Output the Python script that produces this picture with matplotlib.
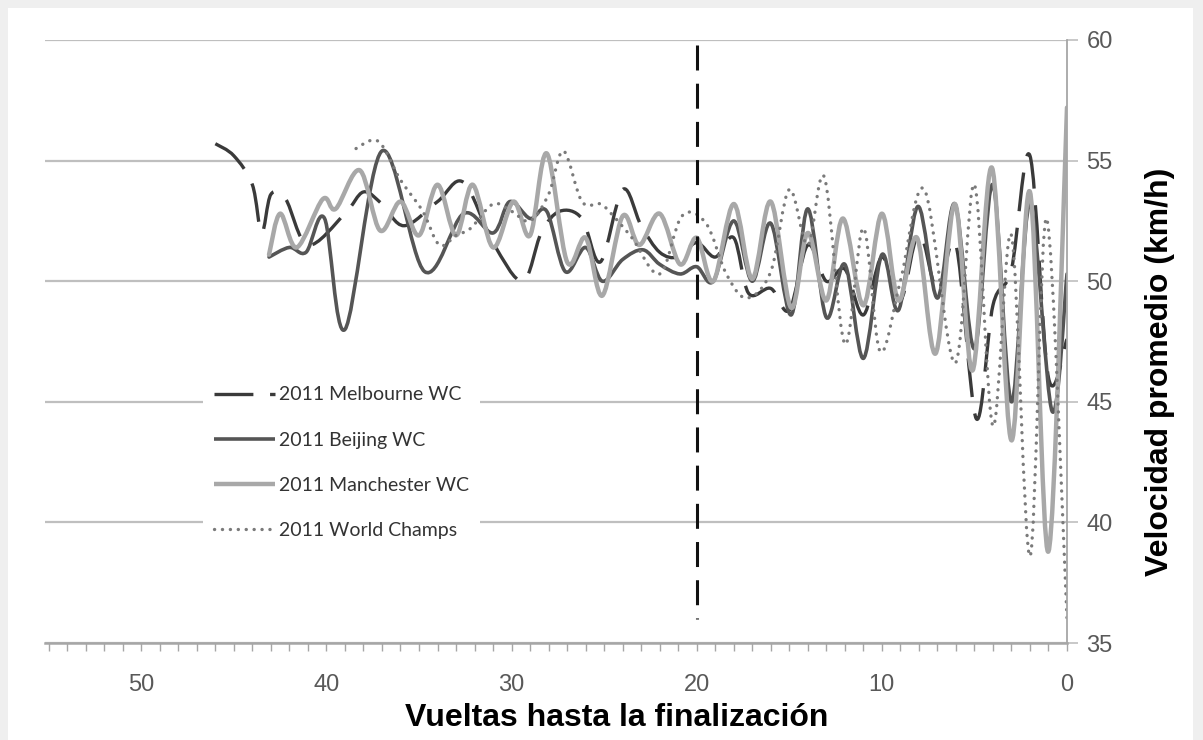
import numpy as np
import matplotlib
matplotlib.use("Agg")
import matplotlib.pyplot as plt
from matplotlib.path import Path
from matplotlib.patches import PathPatch, Rectangle
from matplotlib.lines import Line2D
from matplotlib.ticker import MultipleLocator

plt.rcParams["lines.scale_dashes"] = False

# ---- data: laps to go vs average lap speed (km/h) ----
melbourne_laps = [46.0, 45.0, 44.0, 43.5, 43.0, 42.2, 41.0, 39.0, 38.0, 37.0, 35.8, 34.0,
                  32.6, 31.0, 29.4, 28.4, 27.4, 26.2, 25.2, 24.0, 23.0, 22.0, 21.0, 20.0,
                  19.0, 18.0, 17.2, 16.0, 15.0, 14.0, 13.0, 12.0, 11.0, 10.0, 9.0, 8.0,
                  7.0, 6.0, 4.9, 4.0, 3.0, 2.0, 1.0, 0.0]
melbourne_kmh = [55.7, 55.2, 54.0, 52.0, 53.6, 53.4, 51.5, 52.8, 53.7, 53.2, 52.3, 53.3,
                 54.1, 51.6, 50.0, 52.0, 52.9, 52.6, 50.8, 53.8, 52.3, 51.2, 51.0, 51.6,
                 51.0, 51.8, 49.5, 49.7, 48.8, 51.5, 50.0, 50.5, 48.6, 51.0, 49.2, 52.0,
                 49.6, 51.5, 44.3, 49.0, 50.5, 55.2, 46.0, 47.6]

beijing_laps = [43.1, 42.0, 41.1, 40.1, 39.0, 37.0, 34.7, 32.6, 31.0, 30.1, 29.0, 28.1,
                27.1, 26.0, 25.1, 24.0, 22.9, 22.0, 20.9, 20.0, 19.1, 18.0, 17.0, 16.0,
                14.9, 14.0, 13.0, 12.0, 11.0, 10.0, 9.1, 8.05, 7.0, 6.05, 5.0, 4.0,
                3.0, 2.0, 0.8, 0.0]
beijing_kmh = [51.0, 51.4, 51.2, 52.6, 48.0, 55.4, 50.4, 52.8, 52.0, 53.3, 52.6, 52.9,
               50.4, 51.4, 50.0, 50.9, 51.3, 50.7, 50.3, 50.6, 50.0, 52.5, 50.0, 52.4,
               48.6, 53.0, 48.5, 50.7, 46.8, 51.1, 48.8, 53.1, 49.3, 53.2, 47.2, 54.0,
               45.0, 53.2, 44.6, 50.3]

manchester_laps = [43.1, 42.5, 41.6, 40.2, 39.5, 38.2, 37.1, 36.0, 35.0, 34.0, 33.0, 32.1,
                   31.0, 29.9, 29.0, 28.1, 27.0, 26.0, 25.1, 24.0, 23.1, 22.0, 20.9, 20.0,
                   19.1, 18.0, 17.0, 16.0, 14.9, 14.0, 13.0, 12.1, 11.0, 10.0, 9.1, 8.1,
                   7.1, 6.05, 5.1, 4.05, 3.0, 2.0, 1.0, 0.0]
manchester_kmh = [51.1, 52.8, 51.4, 53.4, 53.0, 54.6, 52.1, 53.3, 51.9, 54.0, 51.9, 54.0,
                  51.4, 53.3, 51.9, 55.3, 50.8, 51.8, 49.4, 52.7, 51.5, 52.8, 50.7, 51.8,
                  50.0, 53.2, 50.1, 53.3, 48.9, 52.0, 49.2, 52.6, 49.0, 52.8, 49.2, 51.8,
                  47.0, 53.2, 46.3, 54.7, 43.4, 53.7, 38.8, 57.2]

worlds_laps = [38.4, 37.2, 36.0, 34.8, 33.9, 33.0, 32.2, 31.0, 30.0, 29.0, 28.0, 27.2,
               26.2, 25.2, 24.5, 23.5, 22.0, 20.8, 19.5, 18.4, 17.3, 16.0, 15.0, 14.0,
               13.1, 12.0, 11.0, 10.1, 9.0, 7.7, 6.05, 5.0, 4.0, 3.0, 2.0, 1.1, 0.0]
worlds_kmh = [55.5, 55.8, 54.2, 52.9, 51.5, 51.9, 52.2, 53.2, 52.9, 52.5, 53.6, 55.4,
              53.3, 53.2, 52.7, 51.8, 50.3, 52.7, 52.4, 50.3, 49.3, 50.4, 53.8, 51.5,
              54.3, 47.4, 52.2, 47.1, 50.0, 53.8, 46.6, 54.0, 44.0, 51.9, 38.6, 52.6, 36.0]

series_labels = ["2011 Melbourne WC", "2011 Beijing WC", "2011 Manchester WC", "2011 World Champs"]
x_ticks = [50, 40, 30, 20, 10, 0]
y_ticks = [35, 40, 45, 50, 55, 60]
marker_lap = 20

# ---- styles ----
styles = [
    dict(color="#3a3a3a", lw=2.4, ls=(0, (28, 12)), cap="butt"),
    dict(color="#555555", lw=2.6, ls="solid", cap="round"),
    dict(color="#a8a8a8", lw=3.2, ls="solid", cap="round"),
    dict(color="#7a7a7a", lw=2.4, ls=(0, (0.1, 5.6)), cap="round"),
]


def smooth_path(xs, ys):
    """Catmull-Rom style cubic Bezier path through the given points."""
    pts = np.column_stack([xs, ys]).astype(float)
    n = len(pts)
    verts = [pts[0]]
    codes = [Path.MOVETO]
    for i in range(n - 1):
        p0 = pts[i - 1] if i > 0 else pts[i]
        p1 = pts[i]
        p2 = pts[i + 1]
        p3 = pts[i + 2] if i + 2 < n else pts[i + 1]
        c1 = p1 + (p2 - p0) / 6.0
        c2 = p2 - (p3 - p1) / 6.0
        verts += [c1, c2, p2]
        codes += [Path.CURVE4] * 3
    return Path(np.array(verts), codes)


W, H = 1203, 740
fig = plt.figure(figsize=(W / 100, H / 100), dpi=100)
fig.patch.set_facecolor("white")

# light frame around the panel
for (x0, y0, w, h) in [(0, 0, 8, H), (0, H - 8, W, 8), (W - 10, 0, 10, H)]:
    fig.patches.append(Rectangle((x0 / W, y0 / H), w / W, h / H, transform=fig.transFigure,
                                 facecolor="#efefef", edgecolor="none", zorder=0))

ax = fig.add_axes([45 / W, 1 - 643 / H, (1067 - 45) / W, (643 - 40) / H])
ax.set_facecolor("none")
ax.set_xlim(55.2, 0)
ax.set_ylim(35, 60)

for s in ["top", "left"]:
    ax.spines[s].set_visible(False)
ax.spines["right"].set_color("#a6a6a6")
ax.spines["right"].set_linewidth(1.3)
ax.spines["bottom"].set_color("#a6a6a6")
ax.spines["bottom"].set_linewidth(1.8)

ax.yaxis.tick_right()
ax.set_yticks(y_ticks)
ax.yaxis.grid(True, color="#bfbfbf", lw=1.6, zorder=0.5)
ax.set_axisbelow(True)
ax.tick_params(axis="y", which="both", length=8, width=1.2, color="#bfbfbf", pad=6,
               labelsize=17, labelcolor="#595959")

ax.set_xticks(x_ticks)
ax.xaxis.set_minor_locator(MultipleLocator(1))
ax.tick_params(axis="x", which="both", direction="out", length=6, width=1.0, color="#a6a6a6")
ax.tick_params(axis="x", which="major", pad=16, labelsize=17, labelcolor="#595959")

for lab in ax.get_xticklabels() + ax.get_yticklabels():
    lab.set_fontfamily("Liberation Sans")

all_series = [(melbourne_laps, melbourne_kmh), (beijing_laps, beijing_kmh),
              (manchester_laps, manchester_kmh), (worlds_laps, worlds_kmh)]

handles = []
for k, ((lx, ly), st) in enumerate(zip(all_series, styles)):
    patch = PathPatch(smooth_path(lx, ly), transform=ax.transData, fill=False,
                      edgecolor=st["color"], linewidth=st["lw"], linestyle=st["ls"],
                      capstyle=st["cap"], joinstyle="round", zorder=2.1 + 0.1 * k)
    ax.add_patch(patch)
    handles.append(Line2D([], [], color=st["color"], lw=st["lw"], ls=st["ls"],
                          dash_capstyle=st["cap"], solid_capstyle="butt"))

# marker for 20 laps to go
ax.plot([marker_lap, marker_lap], [59.8, 36.0], color="#111111", lw=2.2,
        ls=(0, (18, 9.5)), zorder=3)

leg = ax.legend(handles, series_labels, loc="upper left",
                bbox_to_anchor=(193 / W, 1 - 365 / H), bbox_transform=fig.transFigure,
                frameon=True, fancybox=False, framealpha=1, facecolor="white",
                edgecolor="none", borderpad=0.6, handlelength=3.1, handletextpad=0.2,
                labelspacing=1.45, prop=dict(family="Lato", size=14))
for t in leg.get_texts():
    t.set_color("#333333")
leg.set_zorder(5)

fig.text(617 / W, 1 - 718 / H, "Vueltas hasta la finalización", ha="center", va="center",
         fontsize=23, fontweight="bold", family="Liberation Sans")
fig.text(1160 / W, 1 - 372 / H, "Velocidad promedio (km/h)", ha="center", va="center",
         rotation=90, fontsize=23, fontweight="bold", family="Liberation Sans")

fig.savefig("out.png", dpi=100)
